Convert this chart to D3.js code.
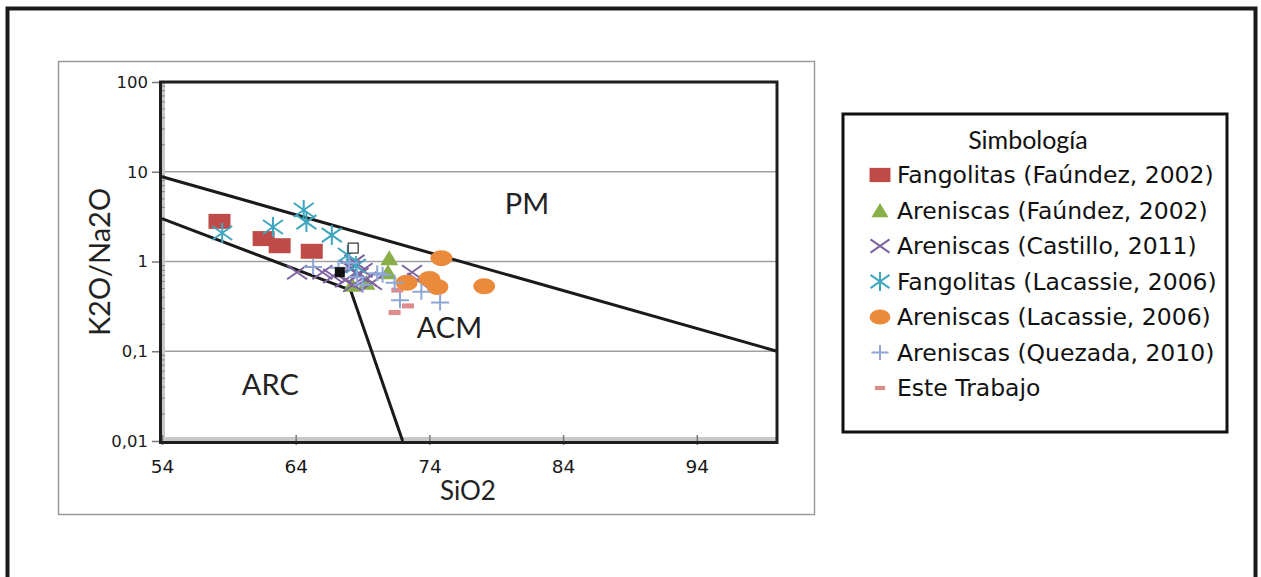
<!DOCTYPE html>
<html><head><meta charset="utf-8">
<script src="https://cdnjs.cloudflare.com/ajax/libs/d3/7.8.5/d3.min.js"></script>
<style>html,body{margin:0;padding:0;background:#fff;}svg{display:block;}</style>
</head><body>
<script>
// ---- data ----
const xTicks = [54, 64, 74, 84, 94];
const yTicks = [0.01, 0.1, 1, 10, 100];
const yTickLabels = ["0,01", "0,1", "1", "10", "100"];
const gridValues = [0.1, 1, 10];
const seriesNames = ["Fangolitas (Faúndez, 2002)", "Areniscas (Faúndez, 2002)", "Areniscas (Castillo, 2011)",
  "Fangolitas (Lacassie, 2006)", "Areniscas (Lacassie, 2006)", "Areniscas (Quezada, 2010)", "Este Trabajo"];
const fangolitasFaundez = [[58.3, 2.8], [61.6, 1.8], [62.8, 1.5], [65.2, 1.3]];
const areniscasFaundez = [[71.0, 1.09], [70.9, 0.76], [68.2, 0.55], [69.3, 0.58]];
const areniscasCastillo = [[64.1, 0.76], [66.0, 0.76], [66.8, 0.69], [67.7, 0.62], [68.1, 0.85], [68.4, 0.99],
  [68.7, 0.71], [69.0, 0.80], [69.3, 0.64], [68.3, 0.55], [69.7, 0.58], [72.7, 0.76], [73.1, 0.62]];
const fangolitasLacassie = [[58.5, 2.08], [62.3, 2.42], [64.6, 3.75], [64.8, 2.75], [66.7, 1.97], [67.9, 1.18], [68.5, 0.89]];
const areniscasLacassie = [[74.9, 1.09], [74.0, 0.64], [74.6, 0.52], [72.3, 0.58], [78.1, 0.53]];
const areniscasQuezada = [[65.3, 0.87], [67.2, 0.85], [68.0, 0.96], [68.6, 0.67], [69.0, 0.55], [70.1, 0.74],
  [70.5, 0.71], [71.4, 0.58], [71.8, 0.37], [73.4, 0.46], [74.8, 0.35]];
const esteTrabajo = [[71.6, 0.48], [72.4, 0.32], [71.4, 0.27], [72.1, 0.58]];
const otherFilled = [[67.3, 0.76]];
const otherOpen = [[68.3, 1.41]];
const boundaryPM = [[54, 8.8], [100, 0.1]];
const boundaryARC = [[54, 3], [68.1, 0.48], [72, 0.01]];
const regionLabels = [["PM", 81.3, 4.6], ["ACM", 75.5, 0.19], ["ARC", 62.1, 0.044]];

// ---- layout ----
const W = 1261, H = 577;
const svg = d3.select("body").append("svg").attr("width", W).attr("height", H);
const x = d3.scaleLinear().domain([54, 100]).range([162, 777]);
const y = d3.scaleLog().domain([0.01, 100]).range([441, 82]);
const tickFont = "'DejaVu Sans', Verdana, sans-serif";
const titleFont = "Lato, 'Open Sans', sans-serif";

// outer frame
svg.append("rect").attr("x", 7.5).attr("y", 8.5).attr("width", 1248).attr("height", 600)
  .attr("fill", "none").attr("stroke", "#1a1a1a").attr("stroke-width", 4);
// chart area border
svg.append("rect").attr("x", 58.5).attr("y", 61.5).attr("width", 756).attr("height", 453)
  .attr("fill", "none").attr("stroke", "#9a9a9a").attr("stroke-width", 1.5);

const plot = svg.append("g");
// gridlines
plot.selectAll(".grid").data(gridValues).join("line")
  .attr("x1", x(54)).attr("x2", x(100)).attr("y1", d => y(d)).attr("y2", d => y(d))
  .attr("stroke", "#a0a0a0").attr("stroke-width", 1.5);

// gray inner bands on axes
plot.append("rect").attr("x", 161).attr("y", 82).attr("width", 4).attr("height", 359).attr("fill", "#c8c8c8");
plot.append("rect").attr("x", 161).attr("y", 437).attr("width", 616).attr("height", 4).attr("fill", "#c8c8c8");
// minor y ticks
const minor = [];
for (let e = -2; e < 2; e++) for (let m = 2; m < 10; m++) minor.push(m * Math.pow(10, e));
plot.selectAll(".minor").data(minor).join("line")
  .attr("x1", 161).attr("x2", 165).attr("y1", d => y(d)).attr("y2", d => y(d))
  .attr("stroke", "#888").attr("stroke-width", 1);

// axes
const xAxis = d3.axisBottom(x).tickValues(xTicks).tickSize(6).tickPadding(13).tickFormat(d3.format("d"));
const gx = svg.append("g").attr("transform", "translate(0,441)").call(xAxis);
gx.select(".domain").remove();
gx.selectAll(".tick line").attr("y1", -6).attr("y2", 4).attr("stroke", "#777").attr("stroke-width", 1.5);
gx.selectAll(".tick text").attr("font-family", tickFont).attr("font-size", 18.5).attr("fill", "#1a1a1a").attr("dy", "0.71em");

const yAxis = d3.axisLeft(y).tickValues(yTicks).tickSize(8).tickPadding(4)
  .tickFormat((d, i) => yTickLabels[i]);
const gy = svg.append("g").attr("transform", "translate(160,0)").call(yAxis);
gy.select(".domain").remove();
gy.selectAll(".tick line").attr("stroke", "#777").attr("stroke-width", 1.5);
gy.selectAll(".tick text").attr("font-family", tickFont).attr("font-size", 16.5).attr("fill", "#1a1a1a");

// plot border
svg.append("rect").attr("x", x(54) - 1.5).attr("y", y(100)).attr("width", x(100) - x(54) + 1.5).attr("height", y(0.01) - y(100) + 1.5)
  .attr("fill", "none").attr("stroke", "#1e1e1e").attr("stroke-width", 3);

// boundary lines
const line = d3.line().x(d => x(d[0])).y(d => y(d[1]));
[boundaryPM, boundaryARC].forEach(b => {
  svg.append("path").attr("d", line(b)).attr("fill", "none").attr("stroke", "#1a1a1a")
    .attr("stroke-width", 3).attr("stroke-linejoin", "round");
});

// region labels
svg.selectAll(".region").data(regionLabels).join("text")
  .attr("x", d => x(d[1])).attr("y", d => y(d[2])).attr("text-anchor", "middle")
  .attr("dominant-baseline", "central")
  .attr("font-family", titleFont).attr("font-size", 29).attr("fill", "#222").text(d => d[0]);

// ---- marker drawers ----
const colors = ["#be4b48", "#8aae4a", "#7e62a0", "#3ea6bf", "#ec8a3b", "#8ea6d6", "#de8c8c"];
function drawMarker(g, type, color, scale = 1) {
  if (type === 0) g.append("rect").attr("x", -11 * scale).attr("y", -7.5 * scale).attr("width", 22 * scale).attr("height", 15 * scale).attr("fill", color);
  else if (type === 1) g.append("path").attr("d", `M0,${-8 * scale}L${9 * scale},${7 * scale}L${-9 * scale},${7 * scale}Z`).attr("fill", color);
  else if (type === 2) g.append("path").attr("d", `M${-10 * scale},${-7 * scale}L${10 * scale},${7 * scale}M${-10 * scale},${7 * scale}L${10 * scale},${-7 * scale}`).attr("stroke", color).attr("stroke-width", 2);
  else if (type === 3) g.append("path").attr("d", `M${-10 * scale},${-7 * scale}L${10 * scale},${7 * scale}M${-10 * scale},${7 * scale}L${10 * scale},${-7 * scale}M0,${-10 * scale}L0,${10 * scale}`).attr("stroke", color).attr("stroke-width", 2);
  else if (type === 4) g.append("ellipse").attr("rx", 11 * scale).attr("ry", 8 * scale).attr("fill", color);
  else if (type === 5) g.append("path").attr("d", `M${-9 * scale},0L${9 * scale},0M0,${-8 * scale}L0,${8 * scale}`).attr("stroke", color).attr("stroke-width", 2);
  else if (type === 6) g.append("rect").attr("x", -6 * scale).attr("y", -2.5 * scale).attr("width", 12 * scale).attr("height", 5 * scale).attr("fill", color);
}

const allSeries = [fangolitasFaundez, areniscasFaundez, areniscasCastillo, fangolitasLacassie, esteTrabajo, areniscasLacassie, areniscasQuezada];
const typeOrder = [0, 1, 2, 3, 6, 4, 5];
allSeries.forEach((s, si) => {
  const t = typeOrder[si];
  svg.append("g").selectAll("g").data(s).join("g")
    .attr("transform", d => `translate(${x(d[0])},${y(d[1])})`)
    .each(function () { drawMarker(d3.select(this), t, colors[t]); });
});
// unlabelled squares
svg.selectAll(".filledSq").data(otherFilled).join("rect")
  .attr("x", d => x(d[0]) - 5).attr("y", d => y(d[1]) - 5).attr("width", 10).attr("height", 10).attr("fill", "#111");
svg.selectAll(".openSq").data(otherOpen).join("rect")
  .attr("x", d => x(d[0]) - 5).attr("y", d => y(d[1]) - 5).attr("width", 10).attr("height", 10)
  .attr("fill", "#fff").attr("stroke", "#333").attr("stroke-width", 1.2);

// axis titles
svg.append("text").attr("x", 468).attr("y", 490).attr("text-anchor", "middle").attr("dominant-baseline", "central")
  .attr("font-family", titleFont).attr("font-size", 26).attr("fill", "#222").text("SiO2");
svg.append("text").attr("transform", "translate(110,262) rotate(-90)").attr("text-anchor", "middle")
  .attr("font-family", titleFont).attr("font-size", 29).attr("fill", "#222").text("K2O/Na2O");

// ---- legend ----
const lg = svg.append("g");
lg.append("rect").attr("x", 843).attr("y", 114).attr("width", 384).attr("height", 318)
  .attr("fill", "#fff").attr("stroke", "#111").attr("stroke-width", 3);
lg.append("text").attr("x", 1028).attr("y", 139).attr("text-anchor", "middle").attr("dominant-baseline", "central")
  .attr("font-family", titleFont).attr("font-size", 25).attr("fill", "#111").text("Simbología");
seriesNames.forEach((name, i) => {
  const cy = 175 + i * 35.5;
  const g = lg.append("g").attr("transform", `translate(880,${cy})`);
  drawMarker(g, i, colors[i], i === 6 ? 0.85 : 0.95);
  lg.append("text").attr("x", 897).attr("y", cy).attr("dominant-baseline", "central")
    .attr("font-family", tickFont).attr("font-size", 23.5).attr("fill", "#111").text(name);
});
</script>
</body></html>
